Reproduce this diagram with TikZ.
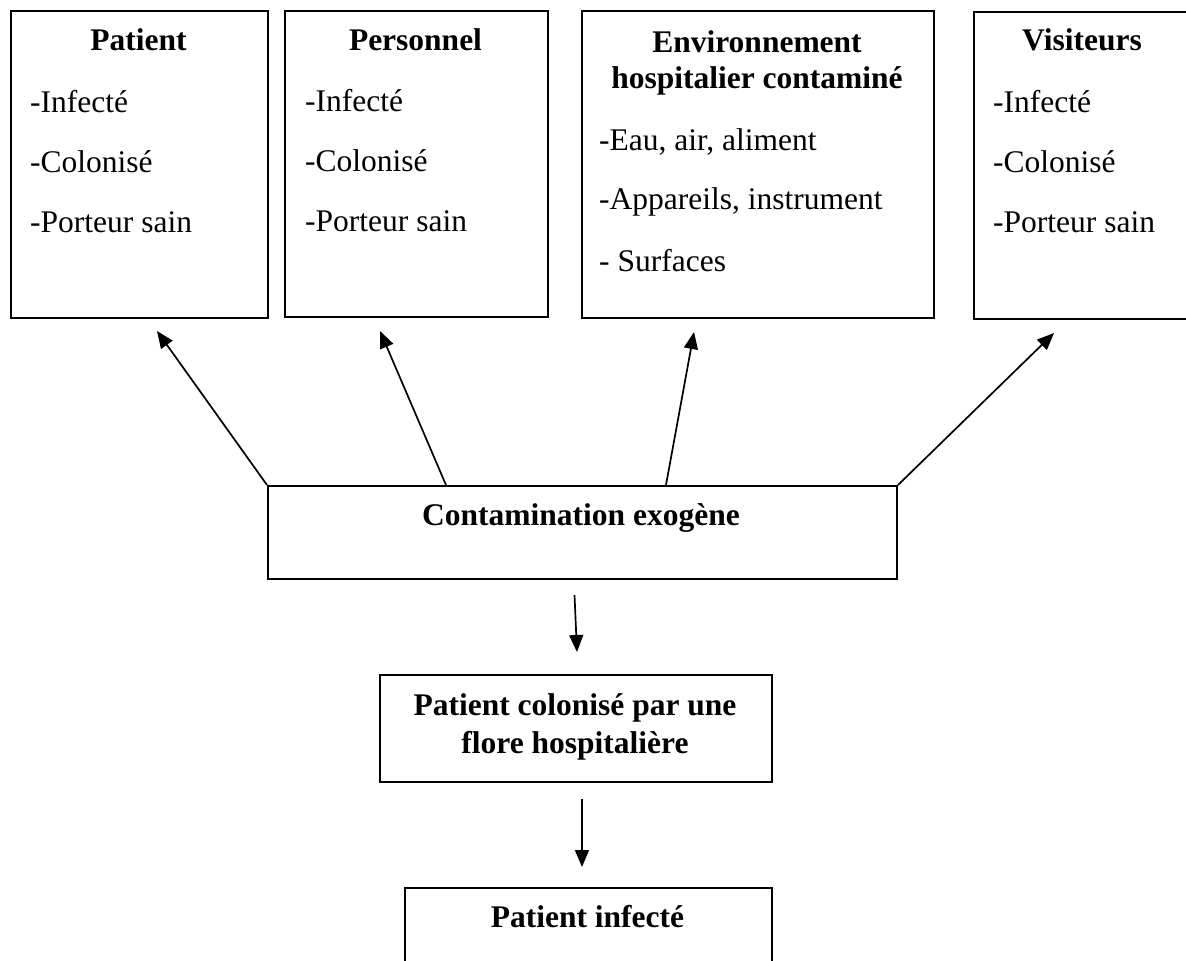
\documentclass[tikz,border=0pt]{standalone}
\usepackage{fontspec}
\setmainfont{Liberation Serif}
\usetikzlibrary{arrows.meta,calc}
\begin{document}
\begin{tikzpicture}[x=1pt,y=-1pt,
  box/.style={draw, line width=2pt, inner sep=0pt, anchor=north west},
  ttl/.style={font=\bfseries, anchor=base, inner sep=0pt},
  itm/.style={anchor=base west, inner sep=0pt},
  arr/.style={line width=1.7pt, -{Triangle[length=17pt,width=14pt]}}]
\fontsize{31.5pt}{37.8pt}\selectfont
\useasboundingbox (0,0) rectangle (1186,961);
% boxes
\node[box, minimum width=257pt, minimum height=307pt] (patient) at (10,10) {};
\node[box, minimum width=263pt, minimum height=306pt] (perso) at (284,10) {};
\node[box, minimum width=352pt, minimum height=307pt] (env) at (581,10) {};
\node[box, minimum width=218pt, minimum height=307pt] (visit) at (973,11) {};
\node[box, minimum width=629pt, minimum height=93pt] (cont) at (267,485) {};
\node[box, minimum width=392pt, minimum height=107pt] (colon) at (379,674) {};
\node[box, minimum width=367pt, minimum height=120pt] (infect) at (404,887) {};
% texts
\node[ttl] (t1) at (138.5,50) {Patient};
\node[itm] (p1) at (30,112) {-Infecté};
\node[itm] (p2) at (30,172) {-Colonisé};
\node[itm] (p3) at (30,232) {-Porteur sain};
\node[ttl] (t2) at (415.5,50) {Personnel};
\node[itm] (q1) at (305,111) {-Infecté};
\node[itm] (q2) at (305,171) {-Colonisé};
\node[itm] (q3) at (305,231) {-Porteur sain};
\node[ttl] (t3a) at (757,52) {Environnement};
\node[ttl] (t3b) at (757,88) {hospitalier contaminé};
\node[itm] (e1) at (599,150) {-Eau, air, aliment};
\node[itm] (e2) at (599,209) {-Appareils, instrument};
\node[itm] (e3) at (599,271) {- Surfaces};
\node[ttl] (t4) at (1082,50) {Visiteurs};
\node[itm] (v1) at (993,112) {-Infecté};
\node[itm] (v2) at (993,172) {-Colonisé};
\node[itm] (v3) at (993,232) {-Porteur sain};
\node[ttl] (tc) at (581,525) {Contamination exogène};
\node[ttl] (tk1) at (575,715) {Patient colonisé par une};
\node[ttl] (tk2) at (575,753) {flore hospitalière};
\node[ttl] (ti) at (587.5,927) {Patient infecté};
% connectors
\coordinate (a1) at ($(patient.south)+(17.5,12)$);
\coordinate (a2) at ($(perso.south)+(-36.5,13)$);
\coordinate (a3) at ($(env.south)+(-64,13)$);
\coordinate (a4) at ($(visit.south)+(-29,13)$);
\draw[arr] (cont.north west) -- (a1);
\draw[arr] ($(cont.north west)+(179,0)$) -- (a2);
\draw[arr] ($(cont.north west)+(399,0)$) -- (a3);
\draw[arr] (cont.north east) -- (a4);
\coordinate (b1) at ($(cont.south)+(-8,15)$);
\coordinate (b2) at ($(colon.north)+(1,-22)$);
\draw[arr] (b1) -- (b2);
\coordinate (c1) at ($(colon.south)+(6,16)$);
\coordinate (c2) at ($(infect.north)+(-6.5,-20)$);
\draw[arr] (c1) -- (c2);
\end{tikzpicture}
\end{document}
